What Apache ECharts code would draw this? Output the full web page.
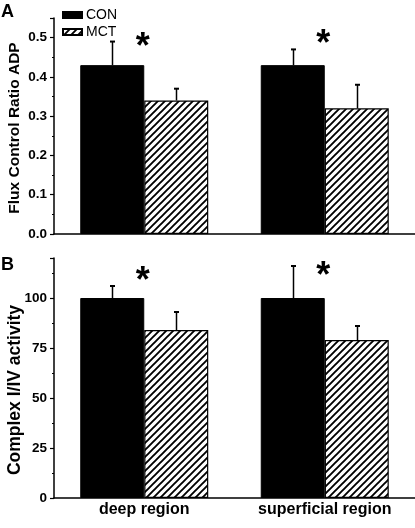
<!DOCTYPE html>
<html><head><meta charset="utf-8">
<script src="https://cdn.jsdelivr.net/npm/echarts@6/dist/echarts.min.js"></script>
<style>html,body{margin:0;padding:0;background:#fff}#c{width:415px;height:528px}</style>
</head><body><div id="c"></div>
<script>
// ---- data ----
const categories = ['deep region', 'superficial region'];
const groupNames = ['CON', 'MCT'];
const fluxCON = [0.43, 0.43];
const fluxMCT = [0.34, 0.32];
const fluxCONErr = [0.06, 0.04];
const fluxMCTErr = [0.03, 0.06];
const cplxCON = [100, 100];
const cplxMCT = [84, 79];
const cplxCONErr = [6, 16];
const cplxMCTErr = [9, 7];
const fluxStarY = [0.488, 0.497];
const cplxStarY = [111, 113.5];
const fluxAxisMax = 0.55;
const fluxAxisStep = 0.1;
const cplxAxisMax = 120;
const cplxAxisStep = 25;
const panelLabels = ['A', 'B'];
const yNames = ['Flux Control Ratio ADP', 'Complex I/IV activity'];

// ---- styles ----
const FONT = '"Liberation Sans", Arial, sans-serif';
const BAR_W = 64;

function hatchCanvas() {
  const s = 7, c = document.createElement('canvas');
  c.width = s; c.height = s;
  const g = c.getContext('2d');
  g.fillStyle = '#fff'; g.fillRect(0, 0, s, s);
  g.strokeStyle = '#000'; g.lineWidth = 1.9;
  g.beginPath();
  g.moveTo(-1, s + 1); g.lineTo(s + 1, -1);
  g.moveTo(-2, 2); g.lineTo(2, -2);
  g.moveTo(s - 2, s + 2); g.lineTo(s + 2, s - 2);
  g.stroke();
  return c;
}
const hatch = { image: hatchCanvas(), repeat: 'repeat' };

function barSeries(name, idx, data, isHatch) {
  return {
    name: name, type: 'bar', xAxisIndex: idx, yAxisIndex: idx,
    data: data, barWidth: BAR_W, barGap: '0%',
    itemStyle: isHatch
      ? { color: hatch, borderColor: '#000', borderWidth: 1.2 }
      : { color: '#000', borderColor: '#000', borderWidth: 1 },
    emphasis: { disabled: true }, silent: true, z: 2
  };
}

function errSeries(idx, vals, errs, side) {
  return {
    type: 'custom', name: 'err', xAxisIndex: idx, yAxisIndex: idx, z: 3, silent: true,
    data: vals.map((v, i) => [i, v, v + errs[i]]),
    renderItem: (p, api) => {
      const b = api.coord([api.value(0), api.value(1)]);
      const t = api.coord([api.value(0), api.value(2)]);
      const x = Math.round(b[0] + side * BAR_W / 2) + 0.5;
      return { type: 'group', children: [
        { type: 'line', shape: { x1: x, y1: b[1], x2: x, y2: t[1] }, style: { stroke: '#000', lineWidth: 1.5 } },
        { type: 'line', shape: { x1: x - 2.5, y1: t[1], x2: x + 2.5, y2: t[1] }, style: { stroke: '#000', lineWidth: 2 } }
      ]};
    }
  };
}

function starSeries(idx, ys) {
  return {
    type: 'custom', name: 'star', xAxisIndex: idx, yAxisIndex: idx, z: 4, silent: true,
    data: ys.map((v, i) => [i, v]),
    renderItem: (p, api) => {
      const pt = api.coord([api.value(0), api.value(1)]);
      return { type: 'text', x: pt[0] - 1.5, y: pt[1] + 6, style: {
        text: '*', font: 'bold 36px ' + FONT, fill: '#000', align: 'center', verticalAlign: 'middle' } };
    }
  };
}

function yAxis(idx, max, step) {
  return {
    type: 'value', gridIndex: idx, min: 0, max: max, interval: step,
    axisLine: { show: true, lineStyle: { color: '#000', width: 1.5 } },
    axisTick: { show: true, length: 4, lineStyle: { color: '#000', width: 1.2 } },
    minorTick: { show: true, splitNumber: 2, length: 2, lineStyle: { color: '#000', width: 1 } },
    splitLine: { show: false },
    axisLabel: { showMaxLabel: false, margin: 7, color: '#000', fontWeight: 'bold', fontSize: 13.5, fontFamily: FONT,
      formatter: idx === 0 ? (v => v.toFixed(1)) : (v => String(v)) }
  };
}

function xAxis(idx, showLabels) {
  return {
    type: 'category', gridIndex: idx, data: categories,
    axisLine: { show: true, lineStyle: { color: '#000', width: 1.5 } },
    axisTick: { show: false },
    axisLabel: { show: showLabels, margin: 4, color: '#000', fontWeight: 'bold', fontSize: 16, fontFamily: FONT }
  };
}

const chart = echarts.init(document.getElementById('c'), null, { renderer: 'canvas' });
chart.setOption({
  animation: false,
  backgroundColor: '#fff',
  grid: [
    { left: 54, right: 0, top: 18, height: 216 },
    { left: 54, right: 0, top: 258, height: 240 }
  ],
  xAxis: [xAxis(0, false), xAxis(1, true)],
  yAxis: [yAxis(0, fluxAxisMax, fluxAxisStep), yAxis(1, cplxAxisMax, cplxAxisStep)],
  legend: {
    data: groupNames, orient: 'vertical', left: 62, top: 8, padding: 0,
    itemWidth: 19, itemHeight: 6, itemGap: 3, icon: 'rect', selectedMode: false,
    textStyle: { color: '#000', fontSize: 14, fontFamily: FONT, padding: [0, 0, 0, -1] }
  },
  graphic: [
    { type: 'text', left: 1, top: 3, style: { text: panelLabels[0], font: 'bold 18px ' + FONT, fill: '#000' } },
    { type: 'text', left: 1, top: 256, style: { text: panelLabels[1], font: 'bold 18px ' + FONT, fill: '#000' } },
    { type: 'text', x: 15, y: 128, rotation: Math.PI / 2, style: { text: yNames[0], font: 'bold 15.5px ' + FONT, fill: '#000', align: 'center', verticalAlign: 'middle' } },
    { type: 'text', x: 15, y: 390, rotation: Math.PI / 2, style: { text: yNames[1], font: 'bold 17.5px ' + FONT, fill: '#000', align: 'center', verticalAlign: 'middle' } }
  ],
  series: [
    barSeries(groupNames[0], 0, fluxCON, false),
    barSeries(groupNames[1], 0, fluxMCT, true),
    errSeries(0, fluxCON, fluxCONErr, -1),
    errSeries(0, fluxMCT, fluxMCTErr, 1),
    starSeries(0, fluxStarY),
    barSeries(groupNames[0], 1, cplxCON, false),
    barSeries(groupNames[1], 1, cplxMCT, true),
    errSeries(1, cplxCON, cplxCONErr, -1),
    errSeries(1, cplxMCT, cplxMCTErr, 1),
    starSeries(1, cplxStarY)
  ]
});
</script></body></html>
